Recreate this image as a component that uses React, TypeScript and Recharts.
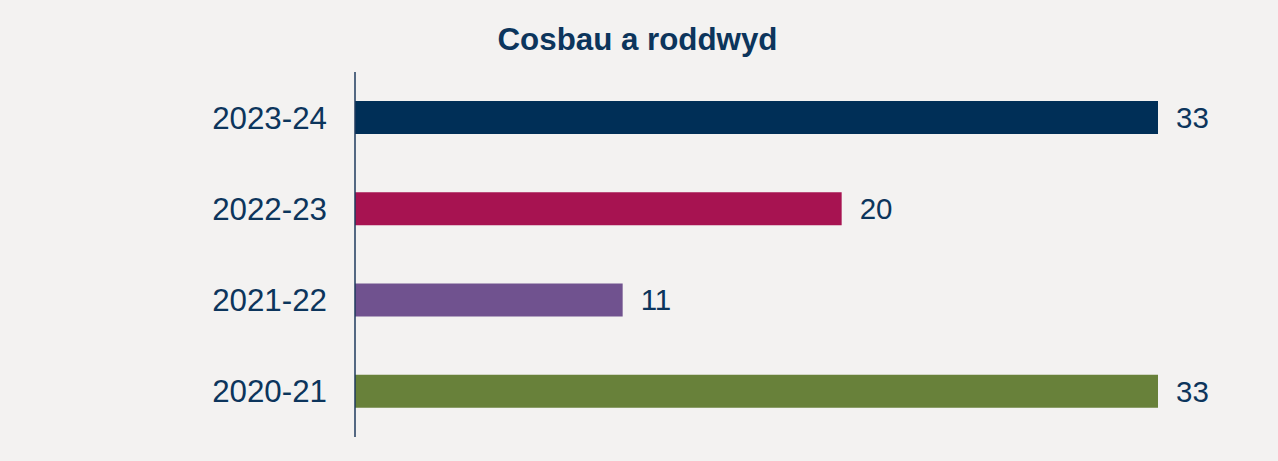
import React from "react";
import { BarChart, Bar, XAxis, YAxis, Cell, LabelList } from "recharts";

const categories = ["2023-24", "2022-23", "2021-22", "2020-21"];
const values = [33, 20, 11, 33];
const colors = ["#002f57", "#a71351", "#70528f", "#68813a"];
const title = "Cosbau a roddwyd";

const data = categories.map((c, i) => ({ name: c, value: values[i] }));

const TEXT = "#0c355c";
const FONT = "'Liberation Sans', Arial, sans-serif";

export default function App() {
  return (
    <div
      style={{
        position: "absolute",
        left: 0,
        top: 0,
        width: 1278,
        height: 461,
        background: "#f3f2f1",
        fontFamily: FONT,
      }}
    >
      <div
        style={{
          position: "absolute",
          left: 0,
          width: 1275,
          top: 24,
          textAlign: "center",
          fontSize: 31.3,
          lineHeight: "31px",
          fontWeight: "bold",
          color: TEXT,
          fontFamily: FONT,
        }}
      >
        {title}
      </div>
      <BarChart
        width={1278}
        height={461}
        data={data}
        layout="vertical"
        margin={{ top: 72, right: 120, bottom: 24, left: 0 }}
      >
        <XAxis type="number" domain={[0, 33]} hide />
        <YAxis
          type="category"
          dataKey="name"
          width={355}
          tickLine={false}
          tickSize={0}
          tickMargin={28}
          axisLine={{ stroke: "#1e3a5c", strokeWidth: 1.5 }}
          tick={{ fill: TEXT, fontSize: 31.3, fontFamily: FONT }}
        />
        <Bar dataKey="value" barSize={33} isAnimationActive={false}>
          {data.map((d, i) => (
            <Cell key={d.name} fill={colors[i]} />
          ))}
          <LabelList
            dataKey="value"
            position="right"
            offset={18}
            fill={TEXT}
            fontSize={29.5}
            fontFamily={FONT}
          />
        </Bar>
      </BarChart>
    </div>
  );
}
